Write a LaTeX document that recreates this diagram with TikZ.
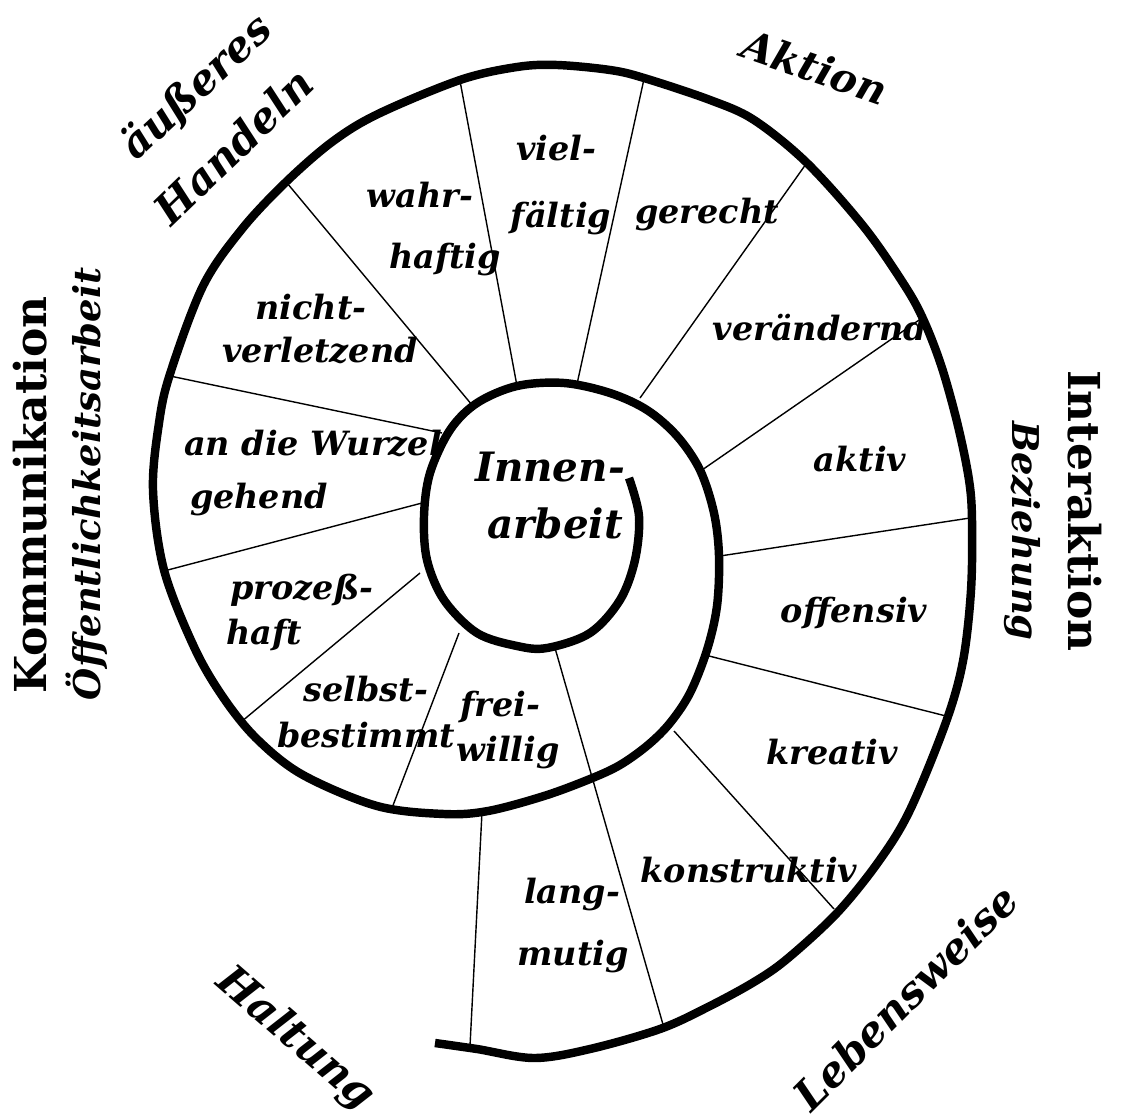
\documentclass[tikz,border=0pt]{standalone}
\usepackage{fontspec}
\setmainfont{DejaVu Serif}

\tikzset{
  spiral/.style={line width=2.4pt, line join=round},
  divider/.style={line width=0.4pt},
  word/.style={inner sep=0pt, font=\fontsize{9.5}{11}\selectfont\bfseries\itshape},
  core/.style={inner sep=0pt, font=\fontsize{11.5}{13}\selectfont\bfseries\itshape},
  theme/.style={inner sep=0pt, font=\fontsize{12.5}{14}\selectfont\bfseries},
  themeit/.style={inner sep=0pt, font=\fontsize{12}{14}\selectfont\bfseries\itshape},
  subtheme/.style={inner sep=0pt, font=\fontsize{10.5}{12}\selectfont\bfseries\itshape}
}

\begin{document}
\begin{tikzpicture}[x=0.01cm, y=-0.01cm]
\useasboundingbox (0,0) rectangle (1131,1119);

% the spiral, from the inner end outwards
\draw[spiral] plot[smooth, tension=0.55] coordinates {
  (629,478) (639,516) (635,560) (620,600) (590,633) (547,648) (517,646)
  (477,633) (444,600) (427,560) (424,516) (430,473) (450,430) (477,403)
  (517,386) (564,383) (610,393) (647,410) (677,436) (700,470) (714,513)
  (719,556) (717,606) (707,650) (690,693) (670,723) (648,745) (620,765)
  (590,779) (544,796) (488,811) (444,814) (377,806) (303,775) (258,740)
  (225,700) (195,649) (164,570) (153,490) (159,423) (170,374) (203,286)
  (242,229) (286,182) (332,142) (378,114) (460,80) (517,67) (557,65)
  (610,70) (644,78) (710,100) (754,120) (807,163) (864,227) (905,286)
  (924,321) (942,368) (958,426) (969,480) (972,520) (971,590) (963,661)
  (946,722) (910,810) (879,861) (837,913) (787,959) (754,982) (708,1007)
  (660,1029) (590,1049) (534,1058) (477,1049) (435,1043)};

% ends of the dividers
\coordinate (langA) at (555,648);   \coordinate (langB) at (664,1028);
\coordinate (haltA) at (482,812);   \coordinate (haltB) at (470,1046);
\coordinate (kreaA) at (674,731);   \coordinate (kreaB) at (834,909);
\coordinate (offA) at (705,655);    \coordinate (offB) at (946,716);
\coordinate (aktA) at (720,556);    \coordinate (aktB) at (970,518);
\coordinate (verA) at (702,470);    \coordinate (verB) at (922,318);
\coordinate (gerA) at (640,398);    \coordinate (gerB) at (806,164);
\coordinate (vielA) at (577,384);   \coordinate (vielB) at (644,79);
\coordinate (wahrA) at (517,386);   \coordinate (wahrB) at (460,81);
\coordinate (nichtA) at (472,405);  \coordinate (nichtB) at (287,183);
\coordinate (wurzA) at (442,433);   \coordinate (wurzB) at (170,376);
\coordinate (prozA) at (422,503);   \coordinate (prozB) at (164,571);
\coordinate (selbA) at (420,573);   \coordinate (selbB) at (241,722);
\coordinate (freiA) at (459,633);   \coordinate (freiB) at (392,808);

\draw[divider] (langA) -- (langB);
\draw[divider] (haltA) -- (haltB);
\draw[divider] (kreaA) -- (kreaB);
\draw[divider] (offA) -- (offB);
\draw[divider] (aktA) -- (aktB);
\draw[divider] (verA) -- (verB);
\draw[divider] (gerA) -- (gerB);
\draw[divider] (vielA) -- (vielB);
\draw[divider] (wahrA) -- (wahrB);
\draw[divider] (nichtA) -- (nichtB);
\draw[divider] (wurzA) -- (wurzB);
\draw[divider] (prozA) -- (prozB);
\draw[divider] (selbA) -- (selbB);
\draw[divider] (freiA) -- (freiB);

% centre
\node[core] (innen) at (550,467) {Innen-};
\node[core] (arbeit) at (555,523) {arbeit};

% inner ring
\node[word] (viel) at (556,148) {viel-};
\node[word] (faeltig) at (561,218) {fältig};
\node[word] (wahr) at (420,195) {wahr-};
\node[word] (haftig) at (445,260) {haftig};
\node[word] (gerecht) at (707,215) {gerecht};
\node[word] (nicht) at (311,307) {nicht-};
\node[word] (verletzend) at (320,350) {verletzend};
\node[word] (wurzel) at (313,443) {an die Wurzel};
\node[word] (gehend) at (259,500) {gehend};
\node[word] (prozess) at (302,590) {prozeß-};
\node[word] (haft) at (264,635) {haft};
\node[word] (selbst) at (366,689) {selbst-};
\node[word] (bestimmt) at (366,735) {bestimmt};
\node[word] (frei) at (500,707) {frei-};
\node[word] (willig) at (508,753) {willig};
\node[word] (veraendernd) at (820,328) {verändernd};

% outer ring
\node[word] (aktiv) at (860,459) {aktiv};
\node[word] (offensiv) at (854,613) {offensiv};
\node[word] (kreativ) at (832,752) {kreativ};
\node[word] (konstruktiv) at (749,870) {konstruktiv};
\node[word] (lang) at (572,895) {lang-};
\node[word] (mutig) at (573,957) {mutig};

% themes round the spiral
\node[themeit, font=\fontsize{11.5}{14}\selectfont\bfseries\itshape, rotate=-19] (aktion) at (815,67) {Aktion};
\node[themeit, rotate=43] (aeusseres) at (197,88) {äußeres};
\node[themeit, rotate=44] (handeln) at (233,146) {Handeln};
\node[theme, rotate=90] (kommunikation) at (30,495) {Kommunikation};
\node[subtheme, rotate=90] (oeffentlich) at (87,484) {Öffentlichkeitsarbeit};
\node[theme, rotate=-90] (interaktion) at (1085,511) {Interaktion};
\node[subtheme, rotate=-90] (beziehung) at (1022,531) {Beziehung};
\node[themeit, rotate=-41] (haltung) at (295,1039) {Haltung};
\node[themeit, rotate=45] (lebensweise) at (905,997) {Lebensweise};
\end{tikzpicture}
\end{document}
